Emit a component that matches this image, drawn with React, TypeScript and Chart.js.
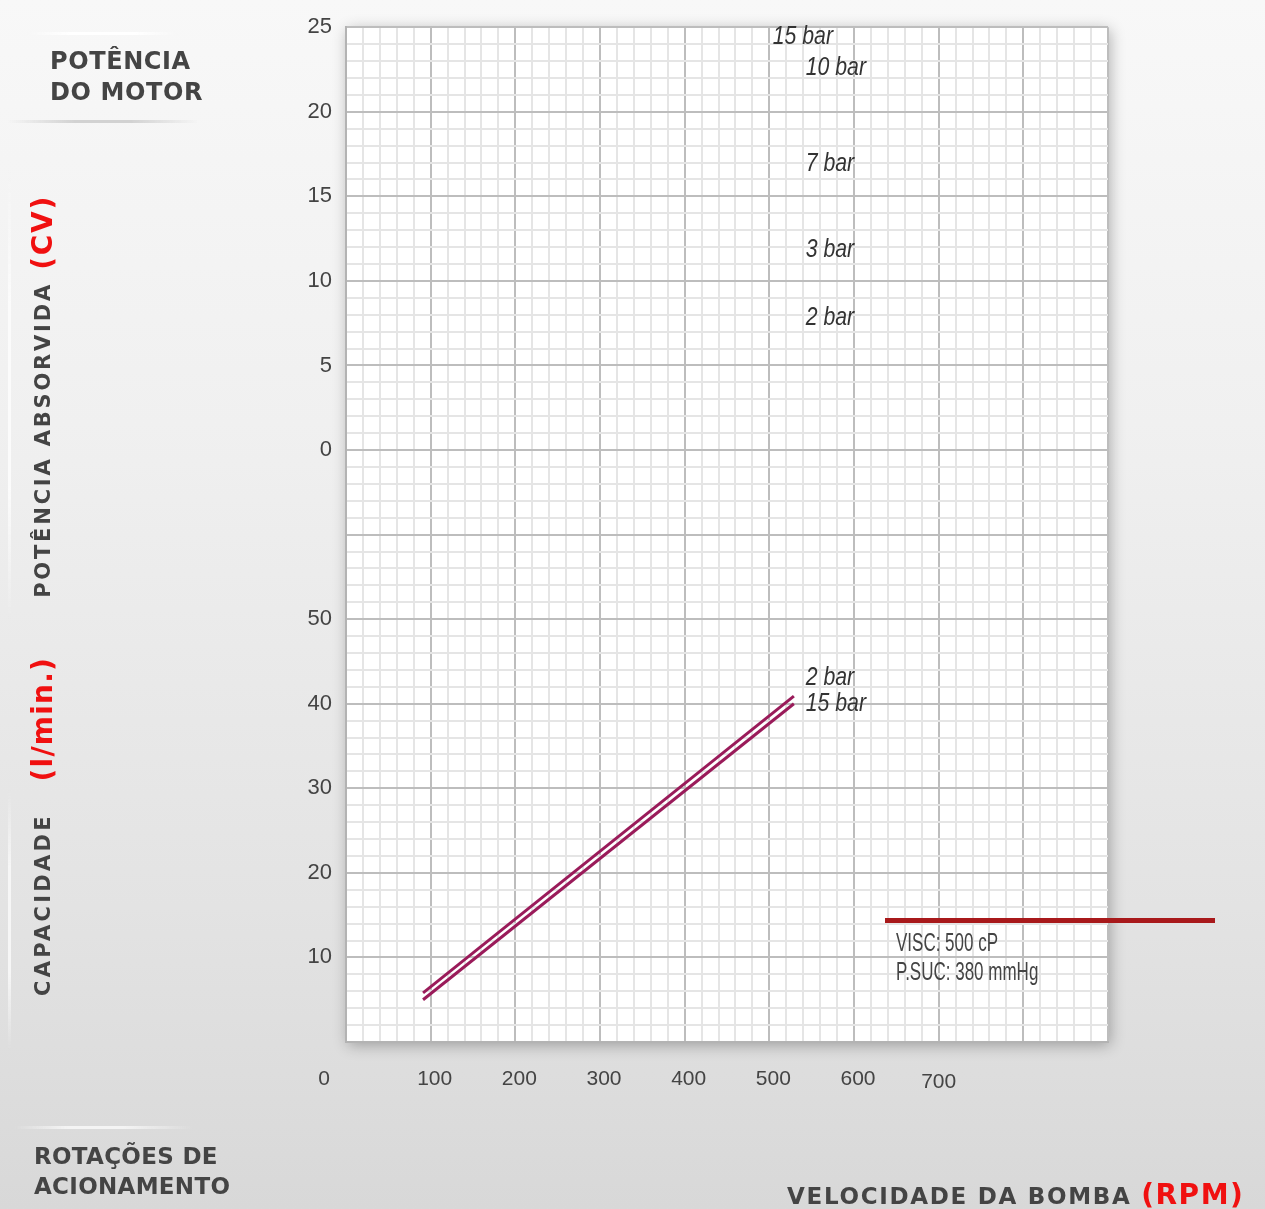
import React, { useEffect, useRef } from "react";
import { Chart, registerables } from "chart.js";

Chart.register(...registerables);

// ---------------- data ----------------
const rpmTickLabels = [0, 100, 200, 300, 400, 500, 600, 700];
const capacityTickLabels = [10, 20, 30, 40, 50];
const powerTickLabels = [0, 5, 10, 15, 20, 25];

const curveRpm = [91, 529];
const capacity2Bar = [5.8, 40.9];
const capacity15Bar = [5.0, 40.0];

const powerLabelNames = ["15 bar", "10 bar", "7 bar", "3 bar", "2 bar"];
const powerLabelRpm = [504, 543, 543, 543, 543];
const powerLabelCv = [24.4, 22.6, 16.9, 11.8, 7.8];

const capacityLabelNames = ["2 bar", "15 bar"];
const capacityLabelRpm = [543, 543];
const capacityLabelValue = [43.0, 40.0];

const conditionLines = ["VISC: 500 cP", "P.SUC: 380 mmHg"];

// ---------------- scale layout ----------------
// One vertical scale: capacity (l/min) uses 0–50; power (CV) sits above it as 70 + 2·CV.
const X_MIN = 0, X_MAX = 900, X_MINOR = 20, X_MAJOR = 100;
const Y_MIN = 0, Y_MAX = 120, Y_MINOR = 2, Y_MAJOR = 10;
const POWER_OFFSET = 70, POWER_FACTOR = 2;

const CURVE_COLOR = "#9a1b5a";
const TEXT = "#444444";
const RED = "#f01010";
const NUM_FONT = '"Liberation Sans", Arial, sans-serif';
const TITLE_FONT = '"DejaVu Sans", "Noto Sans", sans-serif';

function gridValues(min: number, max: number, step: number) {
  const out: { value: number }[] = [];
  for (let v = min; v <= max + 1e-9; v += step) out.push({ value: Math.round(v * 1000) / 1000 });
  return out;
}

const isMajor = (v: number, major: number) => Math.abs(v / major - Math.round(v / major)) < 1e-6;

function narrowText(ctx: CanvasRenderingContext2D, t: string, x: number, y: number, sx: number) {
  ctx.save();
  ctx.translate(x, y);
  ctx.scale(sx, 1);
  ctx.fillText(t, 0, 0);
  ctx.restore();
}

const paperPlugin = {
  id: "paper",
  beforeDraw(chart: any) {
    const { ctx, chartArea: a } = chart;
    ctx.save();
    ctx.shadowColor = "rgba(0,0,0,0.30)";
    ctx.shadowBlur = 14;
    ctx.shadowOffsetX = 2;
    ctx.shadowOffsetY = 3;
    ctx.fillStyle = "#ffffff";
    ctx.fillRect(a.left, a.top, a.right - a.left, a.bottom - a.top);
    ctx.restore();
  },
  afterDraw(chart: any) {
    const { ctx } = chart;
    const xs = chart.scales.x;
    const ys = chart.scales.y;
    ctx.save();
    ctx.fillStyle = "#333333";
    ctx.font = `italic 25px ${NUM_FONT}`;
    ctx.textBaseline = "middle";
    ctx.textAlign = "left";
    powerLabelNames.forEach((t, i) => {
      narrowText(
        ctx,
        t,
        xs.getPixelForValue(powerLabelRpm[i]),
        ys.getPixelForValue(POWER_OFFSET + POWER_FACTOR * powerLabelCv[i]),
        0.85
      );
    });
    capacityLabelNames.forEach((t, i) => {
      narrowText(ctx, t, xs.getPixelForValue(capacityLabelRpm[i]), ys.getPixelForValue(capacityLabelValue[i]), 0.85);
    });
    // the "0" rpm label sits left of the plot frame; "700" sits a little lower than the others
    ctx.font = `21px ${NUM_FONT}`;
    ctx.fillStyle = TEXT;
    ctx.textAlign = "center";
    const labelY = xs.top + 25 + 12.6;
    const first = rpmTickLabels[0];
    const last = rpmTickLabels[rpmTickLabels.length - 1];
    ctx.fillText(String(first), xs.getPixelForValue(first) - 22, labelY);
    ctx.fillText(String(last), xs.getPixelForValue(last), labelY + 3);
    ctx.restore();
  },
};

export default function App() {
  const ref = useRef<HTMLCanvasElement>(null);

  useEffect(() => {
    document.body.style.margin = "0";
    const canvas = ref.current!;
    const last = rpmTickLabels[rpmTickLabels.length - 1];
    const chart = new Chart(canvas, {
      type: "line",
      data: {
        datasets: [
          {
            label: "2 bar",
            data: curveRpm.map((x, i) => ({ x, y: capacity2Bar[i] })),
            borderColor: CURVE_COLOR,
            borderWidth: 3,
            pointRadius: 0,
            fill: false,
          },
          {
            label: "15 bar",
            data: curveRpm.map((x, i) => ({ x, y: capacity15Bar[i] })),
            borderColor: CURVE_COLOR,
            borderWidth: 3,
            pointRadius: 0,
            fill: false,
          },
        ],
      },
      options: {
        responsive: false,
        animation: false,
        layout: { padding: { left: 286, top: 26, right: 157, bottom: 107 } },
        plugins: { legend: { display: false }, tooltip: { enabled: false } },
        scales: {
          x: {
            type: "linear",
            min: X_MIN,
            max: X_MAX,
            afterBuildTicks: (scale: any) => {
              scale.ticks = gridValues(X_MIN, X_MAX, X_MINOR);
            },
            afterFit: (scale: any) => {
              scale.height = 60;
            },
            grid: {
              drawTicks: false,
              color: (c: any) => (isMajor(c.tick.value, X_MAJOR) ? "#bdbdbd" : "#e5e5e5"),
              lineWidth: 2,
            },
            border: { display: true, color: "#b3b3b3", width: 2 },
            ticks: {
              autoSkip: false,
              maxRotation: 0,
              minRotation: 0,
              padding: 25,
              labelOffset: 4,
              color: TEXT,
              font: { family: NUM_FONT, size: 21 },
              callback: (v: any) => {
                const n = Number(v);
                return n !== 0 && n !== last && rpmTickLabels.includes(n) ? String(n) : "";
              },
            },
          },
          y: {
            type: "linear",
            min: Y_MIN,
            max: Y_MAX,
            afterBuildTicks: (scale: any) => {
              scale.ticks = gridValues(Y_MIN, Y_MAX, Y_MINOR);
            },
            afterFit: (scale: any) => {
              scale.width = 60;
            },
            grid: {
              drawTicks: false,
              color: (c: any) => (isMajor(c.tick.value, Y_MAJOR) ? "#bdbdbd" : "#e5e5e5"),
              lineWidth: 2,
            },
            border: { display: true, color: "#b3b3b3", width: 2 },
            ticks: {
              autoSkip: false,
              padding: 14,
              color: TEXT,
              font: { family: NUM_FONT, size: 22 },
              callback: (v: any) => {
                const n = Number(v);
                if (capacityTickLabels.includes(n)) return String(n);
                const p = (n - POWER_OFFSET) / POWER_FACTOR;
                if (n >= POWER_OFFSET && powerTickLabels.includes(p)) return String(p);
                return "";
              },
            },
          },
        },
      },
      plugins: [paperPlugin],
    } as any);
    return () => chart.destroy();
  }, []);

  const title: React.CSSProperties = {
    position: "absolute",
    fontFamily: TITLE_FONT,
    fontWeight: 700,
    color: TEXT,
    whiteSpace: "nowrap",
  };
  const vertical: React.CSSProperties = {
    ...title,
    writingMode: "vertical-rl" as any,
    transform: "rotate(180deg)",
  };

  return (
    <div
      style={{
        position: "absolute",
        left: 0,
        top: 0,
        width: 1265,
        height: 1209,
        overflow: "hidden",
        background: "linear-gradient(180deg, #f8f8f8 0%, #f0f0f0 35%, #e3e3e3 75%, #d8d8d8 100%)",
      }}
    >
      <canvas ref={ref} width={1265} height={1209} style={{ position: "absolute", left: 0, top: 0, display: "block" }} />

      {/* decorative dividers */}
      <div style={{ position: "absolute", left: 27, top: 32, width: 151, height: 3, background: "linear-gradient(90deg, rgba(255,255,255,0), #ffffff 30%, #ffffff 70%, rgba(255,255,255,0))" }} />
      <div style={{ position: "absolute", left: 8, top: 120, width: 190, height: 3, background: "linear-gradient(90deg, rgba(205,205,205,0), #d2d2d2 35%, #d2d2d2 65%, rgba(205,205,205,0))" }} />
      <div style={{ position: "absolute", left: 14, top: 1126, width: 180, height: 3, background: "linear-gradient(90deg, rgba(255,255,255,0), #f4f4f4 30%, #f4f4f4 60%, rgba(255,255,255,0))" }} />
      <div style={{ position: "absolute", left: 8, top: 170, width: 3, height: 450, background: "linear-gradient(180deg, rgba(255,255,255,0), #fbfbfb 30%, #fbfbfb 70%, rgba(255,255,255,0))" }} />
      <div style={{ position: "absolute", left: 8, top: 790, width: 3, height: 260, background: "linear-gradient(180deg, rgba(255,255,255,0), #f6f6f6 30%, #f6f6f6 70%, rgba(255,255,255,0))" }} />

      {/* top-left title */}
      <div style={{ ...title, left: 50, top: 46, fontSize: 24, lineHeight: "31px", letterSpacing: 0.6 }}>
        POTÊNCIA
        <br />
        DO MOTOR
      </div>

      {/* vertical axis titles */}
      <div style={{ ...vertical, left: 28, bottom: 1209 - 598, fontSize: 21, lineHeight: "30px", letterSpacing: 2.8 }}>
        POTÊNCIA ABSORVIDA
      </div>
      <div style={{ ...vertical, left: 26, bottom: 1209 - 270, fontSize: 28, lineHeight: "34px", color: RED, letterSpacing: 1.7 }}>
        (CV)
      </div>
      <div style={{ ...vertical, left: 28, bottom: 1209 - 996, fontSize: 21, lineHeight: "30px", letterSpacing: 3.3 }}>
        CAPACIDADE
      </div>
      <div style={{ ...vertical, left: 26, bottom: 1209 - 781, fontSize: 28, lineHeight: "34px", color: RED, letterSpacing: 1.2 }}>
        (l/min.)
      </div>

      {/* bottom-left title */}
      <div style={{ ...title, left: 34, top: 1141, fontSize: 23, lineHeight: "30px", letterSpacing: 0.3 }}>
        ROTAÇÕES DE
        <br />
        ACIONAMENTO
      </div>

      {/* bottom-right axis title */}
      <div style={{ ...title, left: 787, top: 1177, fontSize: 23, lineHeight: "36px", letterSpacing: 1.7 }}>
        VELOCIDADE DA BOMBA{" "}
        <span style={{ color: RED, fontSize: 28, letterSpacing: 1.5 }}>(RPM)</span>
      </div>

      {/* operating conditions */}
      <div style={{ position: "absolute", left: 885, top: 918, width: 330, height: 5, background: "#a8191b" }} />
      <div
        style={{
          position: "absolute",
          left: 896,
          top: 928,
          fontFamily: NUM_FONT,
          fontSize: 25,
          lineHeight: "29px",
          color: TEXT,
          whiteSpace: "nowrap",
          transform: "scaleX(0.68)",
          transformOrigin: "0 0",
        }}
      >
        {conditionLines.map((l) => (
          <div key={l}>{l}</div>
        ))}
      </div>
    </div>
  );
}
